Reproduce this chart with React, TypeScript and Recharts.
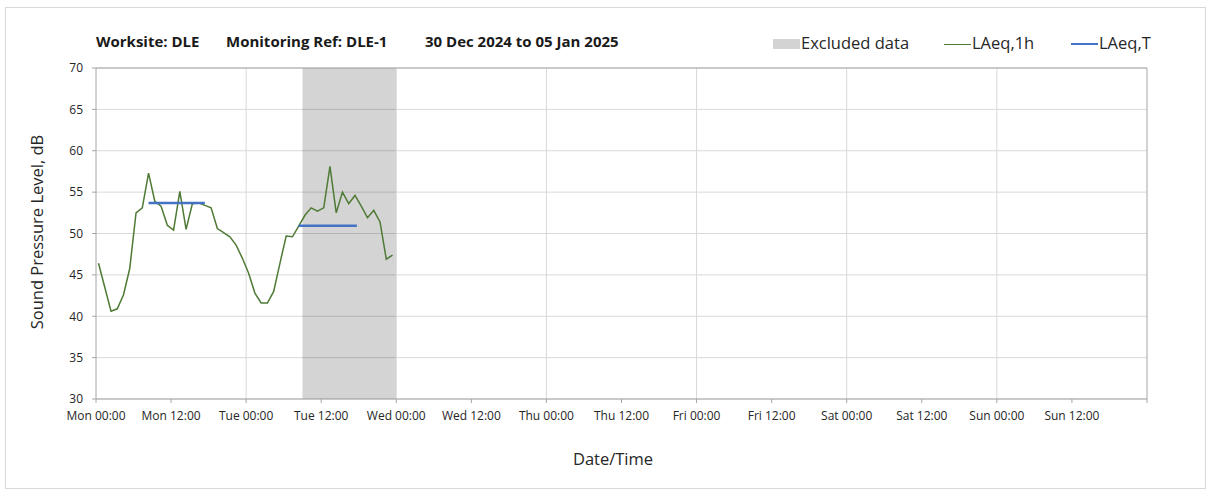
import React from 'react';
import {
  ComposedChart,
  Line,
  XAxis,
  YAxis,
  CartesianGrid,
  ReferenceArea,
  ReferenceLine,
} from 'recharts';

// ---- data ----
const hours: number[] = [
  0, 1, 2, 3, 4, 5, 6, 7, 8, 9, 10, 11, 12, 13, 14, 15, 16, 17, 18, 19, 20, 21, 22, 23,
  24, 25, 26, 27, 28, 29, 30, 31, 32, 33, 34, 35, 36, 37, 38, 39, 40, 41, 42, 43, 44, 45, 46, 47,
];
const laeq1h: number[] = [
  46.4, 43.5, 40.6, 40.9, 42.6, 45.8, 52.5, 53.1, 57.3, 53.9, 53.3, 51.0, 50.4, 55.1, 50.5, 53.6,
  53.7, 53.4, 53.1, 50.6, 50.1, 49.6, 48.6, 47.0, 45.2, 42.8, 41.6, 41.6, 43.0, 46.4, 49.7, 49.6,
  50.9, 52.2, 53.1, 52.7, 53.1, 58.1, 52.5, 55.0, 53.6, 54.6, 53.3, 51.9, 52.8, 51.4, 46.9, 47.4,
];
// hourly values are stamped a little after the hour
const timeOffset = 0.4;
const laeqTStart: number[] = [8, 32];
const laeqTEnd: number[] = [17, 41.3];
const laeqTValue: number[] = [53.7, 50.95];
const excludedStart = 33;
const excludedEnd = 48;
const tickHours: number[] = [0, 12, 24, 36, 48, 60, 72, 84, 96, 108, 120, 132, 144, 156, 168];
const tickLabels: string[] = [
  'Mon 00:00', 'Mon 12:00', 'Tue 00:00', 'Tue 12:00', 'Wed 00:00', 'Wed 12:00', 'Thu 00:00',
  'Thu 12:00', 'Fri 00:00', 'Fri 12:00', 'Sat 00:00', 'Sat 12:00', 'Sun 00:00', 'Sun 12:00', '',
];
const dayLines: number[] = [24, 48, 72, 96, 120, 144];
const yTicks: number[] = [30, 35, 40, 45, 50, 55, 60, 65, 70];
const legendLabels: string[] = ['Excluded data', 'LAeq,1h', 'LAeq,T'];

const lineData = hours.map((h, i) => ({ t: h + timeOffset, v: laeq1h[i] }));
const periods = laeqTStart.map((s, i) => [
  { t: s + timeOffset, v: laeqTValue[i] },
  { t: laeqTEnd[i] + timeOffset, v: laeqTValue[i] },
]);

const FONT = '"Open Sans", "Noto Sans", sans-serif';
const AXIS = '#a6a6a6';
const GRID = '#d9d9d9';
const GREEN = '#4f7a35';
const BLUE = '#4472c4';

const LegendBox = () => (
  <div
    style={{
      position: 'absolute',
      left: 770,
      top: 32,
      width: 420,
      height: 24,
      fontFamily: FONT,
      fontSize: 16.5,
      color: '#262626',
    }}
  >
    <div style={{ position: 'absolute', left: 3, top: 7, width: 27, height: 10, background: '#d3d3d3' }} />
    <div style={{ position: 'absolute', left: 31, top: 0, lineHeight: '22px', whiteSpace: 'nowrap' }}>{legendLabels[0]}</div>
    <div style={{ position: 'absolute', left: 174, top: 11.5, width: 27, height: 1.5, background: GREEN }} />
    <div style={{ position: 'absolute', left: 202, top: 0, lineHeight: '22px', whiteSpace: 'nowrap' }}>{legendLabels[1]}</div>
    <div style={{ position: 'absolute', left: 301, top: 10.5, width: 27, height: 2.5, background: BLUE }} />
    <div style={{ position: 'absolute', left: 329, top: 0, lineHeight: '22px', whiteSpace: 'nowrap' }}>{legendLabels[2]}</div>
  </div>
);

export default function App() {
  return (
    <div style={{ position: 'absolute', left: 0, top: 0, width: 1208, height: 494, background: '#fff' }}>
      <div
        style={{
          position: 'absolute',
          left: 5,
          top: 7,
          width: 1199,
          height: 480,
          border: '1px solid #d9d9d9',
        }}
      />
      <div
        style={{
          position: 'absolute',
          left: 96,
          top: 31,
          fontFamily: FONT,
          fontWeight: 700,
          fontSize: 15,
          color: '#1a1a1a',
          whiteSpace: 'pre',
          lineHeight: '20px',
        }}
      >
        <span>Worksite: DLE</span>
        <span style={{ position: 'absolute', left: 130 }}>Monitoring Ref: DLE-1</span>
        <span style={{ position: 'absolute', left: 329 }}>30 Dec 2024 to 05 Jan 2025</span>
      </div>
      <LegendBox />
      <div
        style={{
          position: 'absolute',
          left: 36,
          top: 232,
          transform: 'translate(-50%, -50%) rotate(-90deg)',
          fontFamily: FONT,
          fontSize: 16.5,
          color: '#262626',
          whiteSpace: 'nowrap',
        }}
      >
        Sound Pressure Level, dB
      </div>
      <div
        style={{
          position: 'absolute',
          left: 613,
          top: 458,
          transform: 'translate(-50%, -50%)',
          fontFamily: FONT,
          fontSize: 16.5,
          color: '#262626',
          whiteSpace: 'nowrap',
        }}
      >
        Date/Time
      </div>
      <div style={{ position: 'absolute', left: 0, top: 0 }}>
        <ComposedChart width={1208} height={494} margin={{ top: 68, right: 61, bottom: 65, left: 0 }}>
          <CartesianGrid vertical={false} stroke={GRID} strokeWidth={1} />
          <XAxis
            type="number"
            dataKey="t"
            domain={[0, 168]}
            ticks={tickHours}
            tickFormatter={(v: number) => tickLabels[tickHours.indexOf(v)] ?? ''}
            height={30}
            allowDataOverflow
            interval={0}
            tickSize={4}
            tickMargin={8}
            axisLine={{ stroke: AXIS }}
            tickLine={{ stroke: AXIS }}
            tick={{ fill: '#262626', fontSize: 12, fontFamily: FONT }}
          />
          <YAxis
            type="number"
            domain={[30, 70]}
            ticks={yTicks}
            width={96}
            interval={0}
            tickSize={4}
            tickMargin={9}
            axisLine={{ stroke: AXIS }}
            tickLine={{ stroke: AXIS }}
            tick={{ fill: '#262626', fontSize: 12, fontFamily: FONT }}
          />
          {dayLines.map((d) => (
            <ReferenceLine key={d} x={d} stroke={GRID} strokeWidth={1} />
          ))}
          <ReferenceLine x={168} stroke={AXIS} strokeWidth={1} />
          <ReferenceLine y={70} stroke={AXIS} strokeWidth={1} />
          <ReferenceArea
            x1={excludedStart}
            x2={excludedEnd}
            y1={30}
            y2={70}
            fill="#000"
            fillOpacity={0.17}
            stroke="none"
          />
          <Line
            data={lineData}
            dataKey="v"
            type="linear"
            stroke={GREEN}
            strokeWidth={1.5}
            dot={false}
            activeDot={false}
            isAnimationActive={false}
            name="LAeq,1h"
          />
          {periods.map((p, i) => (
            <Line
              key={i}
              data={p}
              dataKey="v"
              type="linear"
              stroke={BLUE}
              strokeWidth={2.5}
              dot={false}
              activeDot={false}
              isAnimationActive={false}
              name="LAeq,T"
            />
          ))}
        </ComposedChart>
      </div>
    </div>
  );
}
